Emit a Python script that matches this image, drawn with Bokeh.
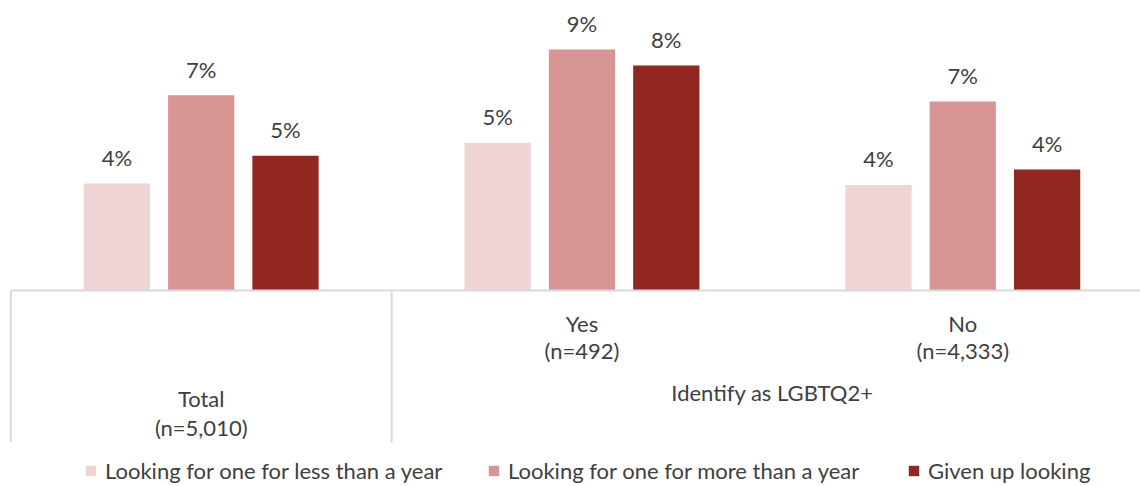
from bokeh.plotting import figure
from bokeh.models import ColumnDataSource, Range1d, Legend, LegendItem
from bokeh.core.properties import value
from bokeh.embed import file_html
from bokeh.resources import INLINE

# ---- data ----
categories = ["Total", "Yes", "No"]
sample_sizes = ["(n=5,010)", "(n=492)", "(n=4,333)"]
group_label = "Identify as LGBTQ2+"
series_names = [
    "Looking for one for less than a year",
    "Looking for one for more than a year",
    "Given up looking",
]
less_than_year = [3.96, 5.47, 3.91]
more_than_year = [7.23, 8.93, 7.00]
given_up = [4.99, 8.33, 4.48]

series_values = [less_than_year, more_than_year, given_up]
colors = ["#F0D4D5", "#D99594", "#922620"]
FONT = "Lato"
TEXT_COLOR = "#404040"
FS = "22px"

# ---- layout helpers (pixel geometry of the reference) ----
W, H = 1140, 486
X0_PX, CAT_PX = 10.3, 380.8   # left edge of first category, category width
BASE_PX, PX_PER_PCT = 290.0, 27.0


def vy(px):
    return (BASE_PX - px) / PX_PER_PCT


p = figure(width=W, height=H, output_backend="svg", toolbar_location=None,
           x_range=Range1d(-X0_PX / CAT_PX, (W - X0_PX) / CAT_PX),
           y_range=Range1d(vy(H), vy(0)), min_border=0)
p.xaxis.visible = False
p.yaxis.visible = False
p.xgrid.visible = False
p.ygrid.visible = False
p.outline_line_color = None
p.background_fill_color = "white"
p.border_fill_color = "white"

offsets = [-0.2214, 0.0, 0.2214]
bar_w = 0.174
renderers = []
for k, (name, vals) in enumerate(zip(series_names, series_values)):
    xs = [i + 0.5 + offsets[k] for i in range(len(categories))]
    src = ColumnDataSource(dict(x=xs, top=vals,
                                lab=[f"{v:.0f}%" for v in vals]))
    r = p.vbar(x="x", top="top", bottom=0, width=bar_w, source=src,
               fill_color=colors[k], line_color=None)
    renderers.append(r)
    p.text(x="x", y="top", text="lab", source=src, y_offset=-26,
           text_align="center", text_baseline="middle",
           text_font=value(FONT), text_font_size=FS, text_color=TEXT_COLOR)

# axis line and separators
p.segment(x0=[0], y0=[0], x1=[(W - X0_PX) / CAT_PX + 0.1], y1=[0],
          line_color="#D9D9D9", line_width=2)
p.segment(x0=[0, 1], y0=[0, 0], x1=[0, 1], y1=[vy(442)] * 2,
          line_color="#D9D9D9", line_width=2)

# category labels
cx = [i + 0.5 for i in range(len(categories))]
row1 = [vy(398), vy(323), vy(323)]
row2 = [vy(427), vy(350), vy(350)]
lab_src = ColumnDataSource(dict(x=cx, y1=row1, y2=row2, t1=categories, t2=sample_sizes))
for yk, tk in (("y1", "t1"), ("y2", "t2")):
    p.text(x="x", y=yk, text=tk, source=lab_src, text_align="center",
           text_baseline="middle", text_font=value(FONT), text_font_size=FS,
           text_color=TEXT_COLOR)
p.text(x=[2.0], y=[vy(392)], text=[group_label], text_align="center",
       text_baseline="middle", text_font=value(FONT), text_font_size=FS,
       text_color=TEXT_COLOR)

# legends (one per item, positioned like the reference)
legend_x = [84, 487, 907]
for k, r in enumerate(renderers):
    lg = Legend(items=[LegendItem(label=series_names[k], renderers=[r])],
                location=(legend_x[k], 2), orientation="horizontal",
                padding=0, margin=0, border_line_alpha=0,
                background_fill_alpha=0, glyph_width=13, glyph_height=13,
                label_standoff=8, label_height=24,
                label_text_font=FONT, label_text_font_size=FS,
                label_text_color=TEXT_COLOR)
    p.add_layout(lg)

open("out.html", "w").write(file_html(p, INLINE))
